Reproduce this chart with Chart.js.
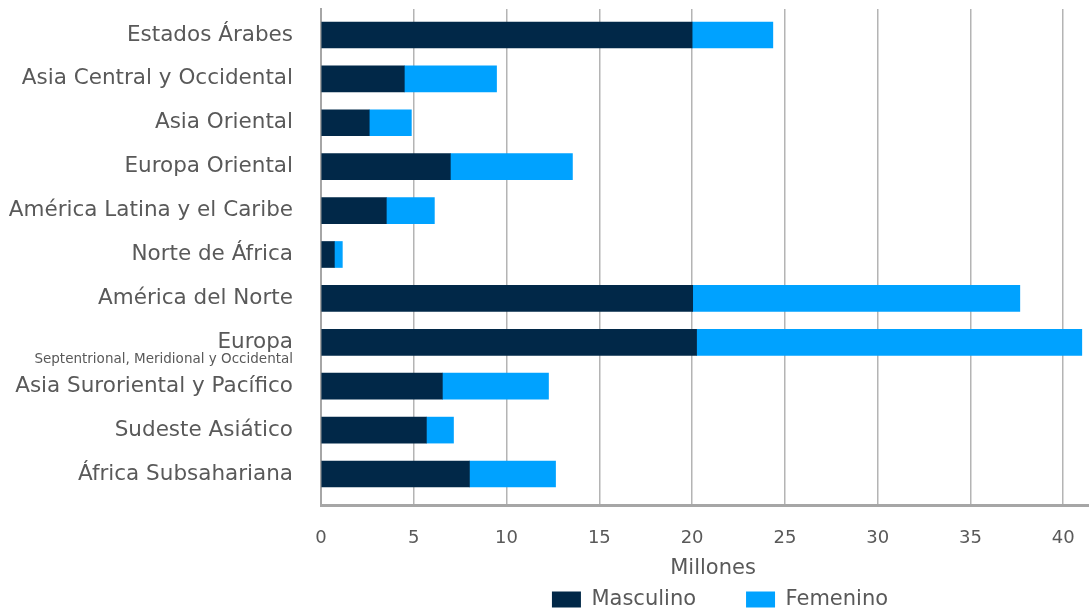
<!DOCTYPE html>
<html>
<head>
<meta charset="utf-8">
<script src="https://cdn.jsdelivr.net/npm/chart.js@4.4.1/dist/chart.umd.min.js"></script>
<style>
html,body{margin:0;padding:0;background:#fff;}
#wrap{width:1089px;height:611px;position:relative;}
</style>
</head>
<body>
<div id="wrap"><canvas id="c" width="1089" height="611"></canvas></div>
<script>
const categories = [
  "Estados Árabes",
  "Asia Central y Occidental",
  "Asia Oriental",
  "Europa Oriental",
  "América Latina y el Caribe",
  "Norte de África",
  "América del Norte",
  "Europa",
  "Asia Suroriental y Pacífico",
  "Sudeste Asiático",
  "África Subsahariana"
];
const subLabels = ["", "", "", "", "", "", "", "Septentrional, Meridional y Occidental", "", "", ""];
const masculino = [20.0, 4.49, 2.60, 6.97, 3.52, 0.72, 20.03, 20.24, 6.54, 5.68, 8.0];
const femenino  = [4.35, 4.97, 2.27, 6.58, 2.59, 0.43, 17.63, 20.76, 5.72, 1.46, 4.64];
const seriesNames = ["Masculino", "Femenino"];
const xTickStep = 5;
const xMax = 42.25;
const axisTitle = "Millones";

const FONT = "'DejaVu Sans', 'Noto Sans', sans-serif";
const TEXT = '#595959';
const LEGEND_GAP = 50;
const PLOT_RIGHT = 1105;

const subLabelPlugin = {
  id: 'subLabels',
  afterDraw(chart) {
    const y = chart.scales.y;
    const ctx = chart.ctx;
    ctx.save();
    ctx.font = "13.5px " + FONT;
    ctx.fillStyle = TEXT;
    ctx.textAlign = 'right';
    ctx.textBaseline = 'middle';
    subLabels.forEach((s, i) => {
      if (!s) return;
      const py = y.getPixelForValue(i);
      ctx.fillText(s, y.right - 28, py + 17);
    });
    ctx.restore();
  }
};

const layoutTweakPlugin = {
  id: 'layoutTweak',
  afterLayout(chart) {
    const x = chart.scales.x;
    if (x) {
      x.right = PLOT_RIGHT;
      x.width = PLOT_RIGHT - x.left;
      x.configure();
      chart.chartArea.right = PLOT_RIGHT;
      chart.chartArea.width = PLOT_RIGHT - chart.chartArea.left;
    }
    const lg = chart.legend;
    if (lg) {
      lg.top -= LEGEND_GAP;
      const dx = 720 - (lg.left + lg.right) / 2;
      lg.left += dx; lg.right += dx;
    }
  }
};

new Chart(document.getElementById('c'), {
  type: 'bar',
  data: {
    datasets: [
      { label: seriesNames[0], data: masculino.map((v, i) => ({x: v, y: i})), backgroundColor: '#012848', barThickness: 26 },
      { label: seriesNames[1], data: femenino.map((v, i) => ({x: v, y: i})), backgroundColor: '#00A2FF', barThickness: 26 }
    ]
  },
  options: {
    indexAxis: 'y',
    responsive: false,
    animation: false,
    layout: { padding: { top: 9, right: 0, left: 0, bottom: 0 } },
    scales: {
      x: {
        type: 'linear',
        stacked: true,
        min: 0,
        max: xMax,
        bounds: 'data',
        grid: { color: '#b4b4b4', lineWidth: 1.5, drawTicks: false },
        border: { display: true, color: '#a6a6a6', width: 3 },
        ticks: { stepSize: xTickStep, includeBounds: false, color: TEXT, font: { family: FONT, size: 18 }, padding: 23 },
        title: { display: true, text: axisTitle, color: TEXT, font: { family: FONT, size: 21 }, padding: { top: 0, bottom: 8 } },
        afterFit(s) { s.paddingLeft = 0; s.paddingRight = 0; s.height = 84; }
      },
      y: {
        type: 'linear',
        stacked: true,
        reverse: true,
        offset: false,
        bounds: 'data',
        min: -0.592,
        max: 10.706,
        grid: { display: false, drawTicks: false, offset: false },
        border: { display: true, color: '#a6a6a6', width: 2 },
        afterBuildTicks(s) { s.ticks = categories.map((_, i) => ({ value: i })); },
        ticks: {
          autoSkip: false,
          color: TEXT,
          font: { family: FONT, size: 21.5 },
          padding: 28,
          callback: (v) => categories[v]
        },
        afterFit(s) { s.width = 321; s.paddingTop = 0; s.paddingBottom = 0; }
      }
    },
    plugins: {
      legend: {
        position: 'bottom',
        fullSize: false,
        maxHeight: 22,
        labels: { boxWidth: 29, boxHeight: 16, color: TEXT, font: { family: FONT, size: 21 }, padding: LEGEND_GAP }
      },
      tooltip: { enabled: false }
    }
  },
  plugins: [subLabelPlugin, layoutTweakPlugin]
});
</script>
</body>
</html>
